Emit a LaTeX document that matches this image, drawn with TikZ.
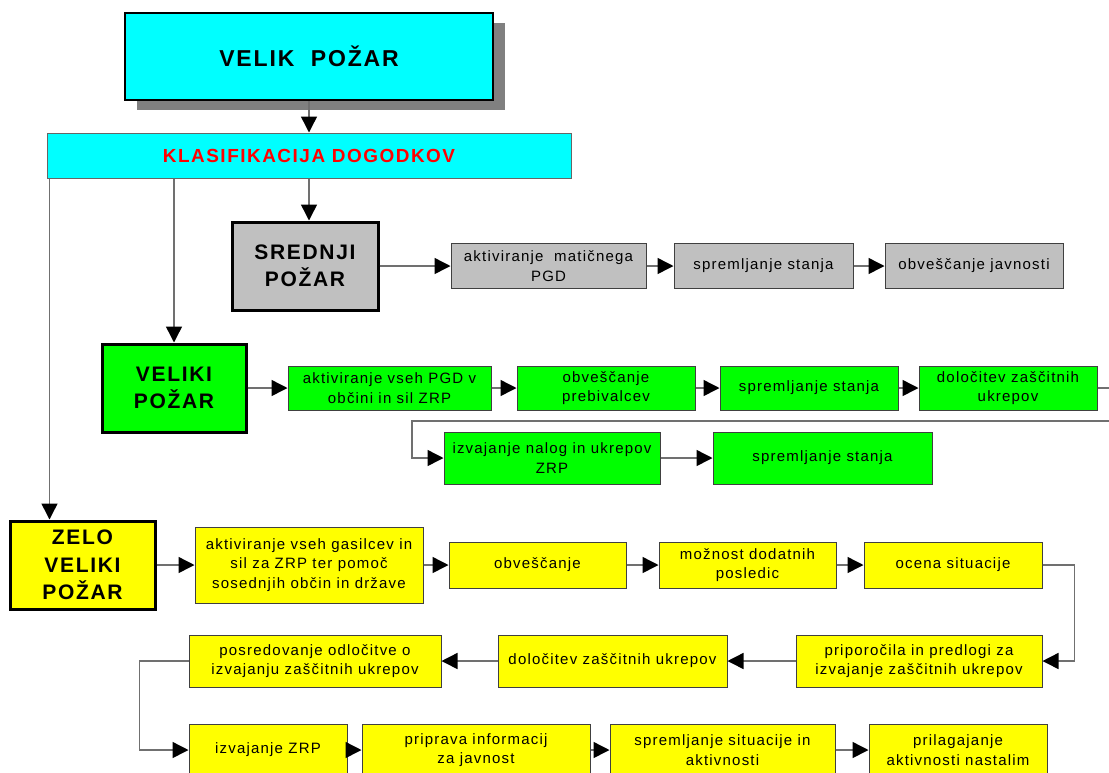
\documentclass[tikz,border=0pt]{standalone}
\usepackage{fontspec}
\setmainfont{Liberation Sans}
\newfontfamily\razmak[LetterSpace=8]{Liberation Sans}
\usetikzlibrary{arrows.meta,shadows}
\definecolor{cian}{HTML}{00FFFF}
\definecolor{siva}{HTML}{C0C0C0}
\definecolor{zelena}{HTML}{00FF00}
\definecolor{rumena}{HTML}{FFFF00}
\definecolor{crta}{HTML}{707070}
\definecolor{senca}{HTML}{808080}
\tikzset{
  vel/.style 2 args={minimum width=#1*0.75pt, minimum height=#2*0.75pt},
  korak/.style={draw=black!75, line width=0.75pt, inner sep=0pt, align=center,
    font=\razmak\fontsize{11.25}{14.5}\selectfont},
  stopnja/.style={draw=black, line width=2.25pt, inner sep=0pt, align=center,
    font=\razmak\bfseries\fontsize{15.75}{20.5}\selectfont},
  pu/.style={draw=crta, line width=1.1pt, -{Triangle[length=12pt,width=12pt,color=black]}}
}
\begin{document}
\begin{tikzpicture}[x=0.75pt, y=-0.75pt]
  \useasboundingbox (0,0) rectangle (1109,772);
  \clip (0,0) rectangle (1109,772);

  \node[draw=black, line width=2pt, fill=cian, vel={368}{87}, align=center,
    font=\razmak\bfseries\fontsize{17.25}{20}\selectfont,
    drop shadow={shadow xshift=9pt, shadow yshift=-7.5pt, fill=senca, opacity=1}]
    (velik) at (309,56.5) {VELIK~~POŽAR};
  \node[draw=black!60, line width=0.75pt, fill=cian, vel={524}{45}, text=red,
    font=\razmak\bfseries\fontsize{14.2}{16}\selectfont]
    (klas) at (309,155.5) {KLASIFIKACIJA DOGODKOV};

  \node[stopnja, fill=siva, vel={146}{88}] (sred) at (305,266) {SREDNJI\\POŽAR};
  \node[korak, fill=siva, vel={195}{45}] (s1) at (548.5,266) {aktiviranje~~matičnega\\PGD};
  \node[korak, fill=siva, vel={179}{45}] (s2) at (763.5,266) {spremljanje stanja};
  \node[korak, fill=siva, vel={178}{45}] (s3) at (974,266) {obveščanje javnosti};

  \node[stopnja, fill=zelena, vel={144}{88}] (vel) at (174,388) {VELIKI\\POŽAR};
  \node[korak, fill=zelena, vel={203}{44}] (v1) at (389.5,388) {aktiviranje vseh PGD v\\občini in sil ZRP};
  \node[korak, fill=zelena, vel={178}{44}] (v2) at (606,388) {obveščanje\\prebivalcev};
  \node[korak, fill=zelena, vel={178}{44}] (v3) at (809,388) {spremljanje stanja};
  \node[korak, fill=zelena, vel={178}{44}] (v4) at (1008,388) {določitev zaščitnih\\ukrepov};
  \node[korak, fill=zelena, vel={216}{52}] (v5) at (552,458) {izvajanje nalog in ukrepov\\ZRP};
  \node[korak, fill=zelena, vel={219}{52}] (v6) at (822.5,458) {spremljanje stanja};

  \node[stopnja, fill=rumena, vel={145}{88}] (zelo) at (82.5,565) {ZELO\\VELIKI\\POŽAR};
  \node[korak, fill=rumena, vel={228}{76}] (z1) at (309,565) {aktiviranje vseh gasilcev in\\sil za ZRP ter pomoč\\sosednjih občin in države};
  \node[korak, fill=rumena, vel={177}{46}] (z2) at (537.5,565) {obveščanje};
  \node[korak, fill=rumena, vel={177}{46}] (z3) at (747.5,565) {možnost dodatnih\\posledic};
  \node[korak, fill=rumena, vel={178}{46}] (z4) at (953,565) {ocena situacije};
  \node[korak, fill=rumena, vel={246}{52}] (z5) at (919,661) {priporočila in predlogi za\\izvajanje zaščitnih ukrepov};
  \node[korak, fill=rumena, vel={229}{52}] (z6) at (612.5,661) {določitev zaščitnih ukrepov};
  \node[korak, fill=rumena, vel={252}{52}] (z7) at (315,661) {posredovanje odločitve o\\izvajanju zaščitnih ukrepov};
  \node[korak, fill=rumena, vel={158}{52}] (z8) at (268,750) {izvajanje ZRP};
  \node[korak, fill=rumena, vel={228}{52}] (z9) at (476,750) {priprava informacij\\za javnost};
  \node[korak, fill=rumena, vel={225}{52}] (z10) at (722.5,750) {spremljanje situacije in\\aktivnosti};
  \node[korak, fill=rumena, vel={178}{52}] (z11) at (958,750) {prilagajanje\\aktivnosti nastalim};

  \draw[pu] (velik.south) -- (klas.north);
  \draw[pu] (klas.south) -- (klas.south |- sred.north);
  \draw[pu] (vel.north |- klas.south) -- (vel.north);
  \draw[pu] ([xshift=2.25pt]klas.south west) -- ([xshift=2.25pt]klas.south west |- zelo.north);

  \foreach \a/\b in {sred/s1, s1/s2, s2/s3, vel/v1, v1/v2, v2/v3, v3/v4, v5/v6,
    zelo/z1, z1/z2, z2/z3, z3/z4, z5/z6, z6/z7, z8/z9, z9/z10, z10/z11}
    \draw[pu] (\a) -- (\b);

  \draw[pu] (v4.east) -- ++(20,0) |- (412,421) |- (v5.west);
  \draw[pu] (z4.east) -- ++(32,0) |- (z5.east);
  \draw[pu] (z7.west) -- ++(-49,0) |- (z8.west);
\end{tikzpicture}
\end{document}
